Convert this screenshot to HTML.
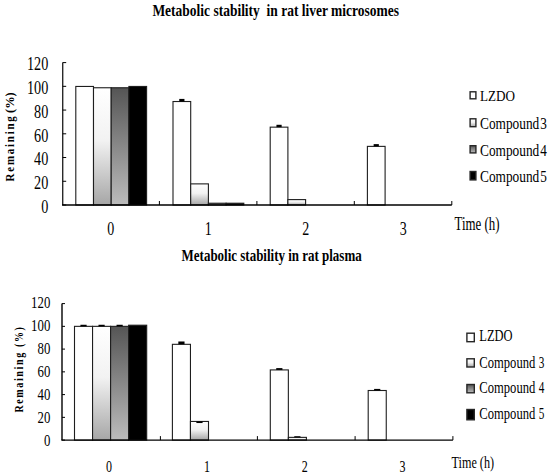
<!DOCTYPE html>
<html><head><meta charset="utf-8"><style>
html,body{margin:0;padding:0;background:#fff;}
svg{display:block;}
text{font-family:"Liberation Serif",serif;}
</style></head><body>
<svg width="550" height="474" viewBox="0 0 550 474">
<defs>
<linearGradient id="g3" x1="0" y1="0" x2="0" y2="1"><stop offset="0" stop-color="#fff"/><stop offset="0.45" stop-color="#f2f2f2"/><stop offset="1" stop-color="#a6a6a6"/></linearGradient>
<linearGradient id="g4" x1="0" y1="0" x2="0" y2="1"><stop offset="0" stop-color="#555"/><stop offset="1" stop-color="#bcbcbc"/></linearGradient>
</defs>
<rect width="550" height="474" fill="#fff"/>
<text x="152.4" y="16.3" font-size="17.5" text-anchor="start" font-weight="bold" fill="#000" textLength="246.6" lengthAdjust="spacingAndGlyphs">Metabolic stability&#160; in rat liver microsomes</text>
<text x="181.6" y="260.6" font-size="16" text-anchor="start" font-weight="bold" fill="#000" textLength="180.1" lengthAdjust="spacingAndGlyphs">Metabolic stability in rat plasma</text>
<rect x="75.8" y="86.45" width="17.7" height="118.55" fill="#fff" stroke="#1e1e1e" stroke-width="1.1"/>
<rect x="93.5" y="87.76" width="17.7" height="117.24" fill="url(#g3)" stroke="#1e1e1e" stroke-width="1.1"/>
<rect x="111.2" y="87.76" width="17.7" height="117.24" fill="url(#g4)" stroke="#1e1e1e" stroke-width="1.1"/>
<rect x="128.9" y="86.45" width="17.7" height="118.55" fill="#000" stroke="#1e1e1e" stroke-width="1.1"/>
<rect x="173" y="101.52" width="17.7" height="103.48" fill="#fff" stroke="#1e1e1e" stroke-width="1.1"/>
<rect x="190.7" y="183.88" width="17.7" height="21.12" fill="url(#g3)" stroke="#1e1e1e" stroke-width="1.1"/>
<rect x="208.4" y="203.22" width="17.7" height="1.78" fill="url(#g4)" stroke="#1e1e1e" stroke-width="1.1"/>
<rect x="226.1" y="203.22" width="17.7" height="1.78" fill="#000" stroke="#1e1e1e" stroke-width="1.1"/>
<rect x="270.2" y="127.15" width="17.7" height="77.85" fill="#fff" stroke="#1e1e1e" stroke-width="1.1"/>
<rect x="287.9" y="199.6" width="17.7" height="5.4" fill="url(#g3)" stroke="#1e1e1e" stroke-width="1.1"/>
<rect x="367.4" y="146.38" width="17.7" height="58.62" fill="#fff" stroke="#1e1e1e" stroke-width="1.1"/>
<rect x="179.25" y="98.91" width="5.2" height="2.61" fill="#000"/>
<rect x="276.45" y="124.78" width="5.2" height="2.37" fill="#000"/>
<rect x="373.65" y="144.12" width="5.2" height="2.25" fill="#000"/>
<path d="M62.7 62.6 V205" fill="none" stroke="#2a2a2a" stroke-width="1.4"/>
<path d="M62 205 H451.8" fill="none" stroke="#000" stroke-width="1.4"/>
<path d="M62.7 205 H66.2" stroke="#000" stroke-width="1"/>
<path d="M62.7 181.27 H66.2" stroke="#000" stroke-width="1"/>
<path d="M62.7 157.53 H66.2" stroke="#000" stroke-width="1"/>
<path d="M62.7 133.8 H66.2" stroke="#000" stroke-width="1"/>
<path d="M62.7 110.07 H66.2" stroke="#000" stroke-width="1"/>
<path d="M62.7 86.33 H66.2" stroke="#000" stroke-width="1"/>
<path d="M62.7 62.6 H66.2" stroke="#000" stroke-width="1"/>
<path d="M159.4 205 V201" stroke="#000" stroke-width="1"/>
<path d="M256.9 205 V201" stroke="#000" stroke-width="1"/>
<path d="M354.3 205 V201" stroke="#000" stroke-width="1"/>
<path d="M451.8 205 V201" stroke="#000" stroke-width="1"/>
<text x="48.3" y="213.1" font-size="18" text-anchor="end" font-weight="normal" fill="#000" textLength="7.1" lengthAdjust="spacingAndGlyphs">0</text>
<text x="48.3" y="189.28" font-size="18" text-anchor="end" font-weight="normal" fill="#000" textLength="14.2" lengthAdjust="spacingAndGlyphs">20</text>
<text x="48.3" y="165.46" font-size="18" text-anchor="end" font-weight="normal" fill="#000" textLength="14.2" lengthAdjust="spacingAndGlyphs">40</text>
<text x="48.3" y="141.64" font-size="18" text-anchor="end" font-weight="normal" fill="#000" textLength="14.2" lengthAdjust="spacingAndGlyphs">60</text>
<text x="48.3" y="117.82" font-size="18" text-anchor="end" font-weight="normal" fill="#000" textLength="14.2" lengthAdjust="spacingAndGlyphs">80</text>
<text x="48.3" y="94" font-size="18" text-anchor="end" font-weight="normal" fill="#000" textLength="21.3" lengthAdjust="spacingAndGlyphs">100</text>
<text x="48.3" y="70.18" font-size="18" text-anchor="end" font-weight="normal" fill="#000" textLength="21.3" lengthAdjust="spacingAndGlyphs">120</text>
<text x="110.7" y="234.7" font-size="18" text-anchor="middle" font-weight="normal" fill="#000" textLength="7" lengthAdjust="spacingAndGlyphs">0</text>
<text x="208.25" y="234.7" font-size="18" text-anchor="middle" font-weight="normal" fill="#000" textLength="7" lengthAdjust="spacingAndGlyphs">1</text>
<text x="305.8" y="234.7" font-size="18" text-anchor="middle" font-weight="normal" fill="#000" textLength="7" lengthAdjust="spacingAndGlyphs">2</text>
<text x="403.35" y="234.7" font-size="18" text-anchor="middle" font-weight="normal" fill="#000" textLength="7" lengthAdjust="spacingAndGlyphs">3</text>
<rect x="74.5" y="326.35" width="18.05" height="113.75" fill="#fff" stroke="#1e1e1e" stroke-width="1.1"/>
<rect x="92.55" y="326.35" width="18.05" height="113.75" fill="url(#g3)" stroke="#1e1e1e" stroke-width="1.1"/>
<rect x="110.6" y="326.35" width="18.05" height="113.75" fill="url(#g4)" stroke="#1e1e1e" stroke-width="1.1"/>
<rect x="128.65" y="325.21" width="18.05" height="114.89" fill="#000" stroke="#1e1e1e" stroke-width="1.1"/>
<rect x="172.4" y="344.32" width="18.05" height="95.78" fill="#fff" stroke="#1e1e1e" stroke-width="1.1"/>
<rect x="190.45" y="421.45" width="18.05" height="18.65" fill="url(#g3)" stroke="#1e1e1e" stroke-width="1.1"/>
<rect x="270.3" y="369.92" width="18.05" height="70.18" fill="#fff" stroke="#1e1e1e" stroke-width="1.1"/>
<rect x="288.35" y="437.37" width="18.05" height="2.73" fill="url(#g3)" stroke="#1e1e1e" stroke-width="1.1"/>
<rect x="368.2" y="390.5" width="18.05" height="49.59" fill="#fff" stroke="#1e1e1e" stroke-width="1.1"/>
<rect x="80.43" y="324.76" width="6.2" height="1.59" fill="#000"/>
<rect x="98.48" y="324.76" width="6.2" height="1.59" fill="#000"/>
<rect x="116.53" y="324.76" width="6.2" height="1.59" fill="#000"/>
<rect x="178.33" y="341.48" width="6.2" height="2.84" fill="#000"/>
<rect x="196.38" y="421.45" width="6.2" height="1.59" fill="#000"/>
<rect x="276.22" y="368.1" width="6.2" height="1.82" fill="#000"/>
<rect x="294.27" y="436.23" width="6.2" height="1.14" fill="#000"/>
<rect x="374.12" y="388.91" width="6.2" height="1.59" fill="#000"/>
<path d="M62 303.6 V440.1" fill="none" stroke="#000" stroke-width="1.4"/>
<path d="M61.3 440.1 H452.9" fill="none" stroke="#000" stroke-width="1.4"/>
<path d="M62 440.1 H65" stroke="#000" stroke-width="1"/>
<path d="M62 417.35 H65" stroke="#000" stroke-width="1"/>
<path d="M62 394.6 H65" stroke="#000" stroke-width="1"/>
<path d="M62 371.85 H65" stroke="#000" stroke-width="1"/>
<path d="M62 349.1 H65" stroke="#000" stroke-width="1"/>
<path d="M62 326.35 H65" stroke="#000" stroke-width="1"/>
<path d="M62 303.6 H65" stroke="#000" stroke-width="1"/>
<path d="M160.4 440.1 V436.1" stroke="#000" stroke-width="1"/>
<path d="M257.4 440.1 V436.1" stroke="#000" stroke-width="1"/>
<path d="M355.1 440.1 V436.1" stroke="#000" stroke-width="1"/>
<path d="M452.9 440.1 V436.1" stroke="#000" stroke-width="1"/>
<text x="50.3" y="446.4" font-size="16.8" text-anchor="end" font-weight="normal" fill="#000" textLength="6.4" lengthAdjust="spacingAndGlyphs">0</text>
<text x="50.3" y="423.32" font-size="16.8" text-anchor="end" font-weight="normal" fill="#000" textLength="12.8" lengthAdjust="spacingAndGlyphs">20</text>
<text x="50.3" y="400.24" font-size="16.8" text-anchor="end" font-weight="normal" fill="#000" textLength="12.8" lengthAdjust="spacingAndGlyphs">40</text>
<text x="50.3" y="377.16" font-size="16.8" text-anchor="end" font-weight="normal" fill="#000" textLength="12.8" lengthAdjust="spacingAndGlyphs">60</text>
<text x="50.3" y="354.08" font-size="16.8" text-anchor="end" font-weight="normal" fill="#000" textLength="12.8" lengthAdjust="spacingAndGlyphs">80</text>
<text x="50.3" y="331" font-size="16.8" text-anchor="end" font-weight="normal" fill="#000" textLength="19.2" lengthAdjust="spacingAndGlyphs">100</text>
<text x="50.3" y="307.92" font-size="16.8" text-anchor="end" font-weight="normal" fill="#000" textLength="19.2" lengthAdjust="spacingAndGlyphs">120</text>
<text x="109.1" y="471.5" font-size="16" text-anchor="middle" font-weight="normal" fill="#000" textLength="6" lengthAdjust="spacingAndGlyphs">0</text>
<text x="206.9" y="471.5" font-size="16" text-anchor="middle" font-weight="normal" fill="#000" textLength="6" lengthAdjust="spacingAndGlyphs">1</text>
<text x="304.7" y="471.5" font-size="16" text-anchor="middle" font-weight="normal" fill="#000" textLength="6" lengthAdjust="spacingAndGlyphs">2</text>
<text x="402.5" y="471.5" font-size="16" text-anchor="middle" font-weight="normal" fill="#000" textLength="6" lengthAdjust="spacingAndGlyphs">3</text>
<g transform="translate(13.9,181.4) rotate(-90)" font-size="11.5" font-weight="bold"><g transform="scale(0.95,1)"><text x="0" y="0" textLength="68.63" lengthAdjust="spacing">Remaining</text></g><text x="68.4" y="0" textLength="20.8" lengthAdjust="spacingAndGlyphs">(%)</text></g>
<g transform="translate(22.6,412.6) rotate(-90) scale(0.74,1)" font-size="13.5" font-weight="bold"><text x="0" y="0" textLength="115.54" lengthAdjust="spacing">Remaining (%)</text></g>
<text x="454.5" y="230.1" font-size="18" text-anchor="start" font-weight="normal" fill="#000" textLength="45" lengthAdjust="spacingAndGlyphs">Time (h)</text>
<text x="451.6" y="467.5" font-size="16" text-anchor="start" font-weight="normal" fill="#000" textLength="42.4" lengthAdjust="spacingAndGlyphs">Time (h)</text>
<rect x="470.1" y="91.8" width="5.8" height="7" fill="#fff" stroke="#262626" stroke-width="1.4"/>
<text x="480" y="101.4" font-size="15" text-anchor="start" font-weight="normal" fill="#000" textLength="35" lengthAdjust="spacingAndGlyphs">LZDO</text>
<rect x="470.1" y="118.8" width="5.8" height="7.9" fill="url(#g3)" stroke="#262626" stroke-width="1.4"/>
<text x="480" y="128.7" font-size="16" text-anchor="start" font-weight="normal" fill="#000" textLength="59.3" lengthAdjust="spacingAndGlyphs">Compound</text>
<text x="540.3" y="128.7" font-size="16" text-anchor="start" font-weight="normal" fill="#000" textLength="6.6" lengthAdjust="spacingAndGlyphs">3</text>
<rect x="470.1" y="145.7" width="5.8" height="7.2" fill="url(#g4)" stroke="#262626" stroke-width="1.4"/>
<text x="480" y="156" font-size="16" text-anchor="start" font-weight="normal" fill="#000" textLength="59.3" lengthAdjust="spacingAndGlyphs">Compound</text>
<text x="540.3" y="156" font-size="16" text-anchor="start" font-weight="normal" fill="#000" textLength="6.6" lengthAdjust="spacingAndGlyphs">4</text>
<rect x="470.1" y="171.5" width="5.8" height="8.4" fill="#000" stroke="#262626" stroke-width="1.4"/>
<text x="480" y="182.4" font-size="16" text-anchor="start" font-weight="normal" fill="#000" textLength="59.3" lengthAdjust="spacingAndGlyphs">Compound</text>
<text x="540.3" y="182.4" font-size="16" text-anchor="start" font-weight="normal" fill="#000" textLength="6.6" lengthAdjust="spacingAndGlyphs">5</text>
<rect x="466.9" y="333.2" width="7.4" height="8.5" fill="#fff" stroke="#262626" stroke-width="1.4"/>
<text x="479.3" y="341" font-size="16" text-anchor="start" font-weight="normal" fill="#000" textLength="33.2" lengthAdjust="spacingAndGlyphs">LZDO</text>
<rect x="466.9" y="358.8" width="7.4" height="8.2" fill="url(#g3)" stroke="#262626" stroke-width="1.4"/>
<text x="479.3" y="367.8" font-size="16" text-anchor="start" font-weight="normal" fill="#000" textLength="56" lengthAdjust="spacingAndGlyphs">Compound</text>
<text x="538.7" y="367.8" font-size="16" text-anchor="start" font-weight="normal" fill="#000" textLength="5.6" lengthAdjust="spacingAndGlyphs">3</text>
<rect x="466.9" y="384.5" width="7.4" height="8.3" fill="url(#g4)" stroke="#262626" stroke-width="1.4"/>
<text x="479.3" y="393.4" font-size="16" text-anchor="start" font-weight="normal" fill="#000" textLength="56" lengthAdjust="spacingAndGlyphs">Compound</text>
<text x="538.7" y="393.4" font-size="16" text-anchor="start" font-weight="normal" fill="#000" textLength="5.6" lengthAdjust="spacingAndGlyphs">4</text>
<rect x="466.9" y="409.5" width="7.4" height="10.3" fill="#000" stroke="#262626" stroke-width="1.4"/>
<text x="479.3" y="418.9" font-size="16" text-anchor="start" font-weight="normal" fill="#000" textLength="56" lengthAdjust="spacingAndGlyphs">Compound</text>
<text x="538.7" y="418.9" font-size="16" text-anchor="start" font-weight="normal" fill="#000" textLength="5.6" lengthAdjust="spacingAndGlyphs">5</text>
</svg>
</body></html>
